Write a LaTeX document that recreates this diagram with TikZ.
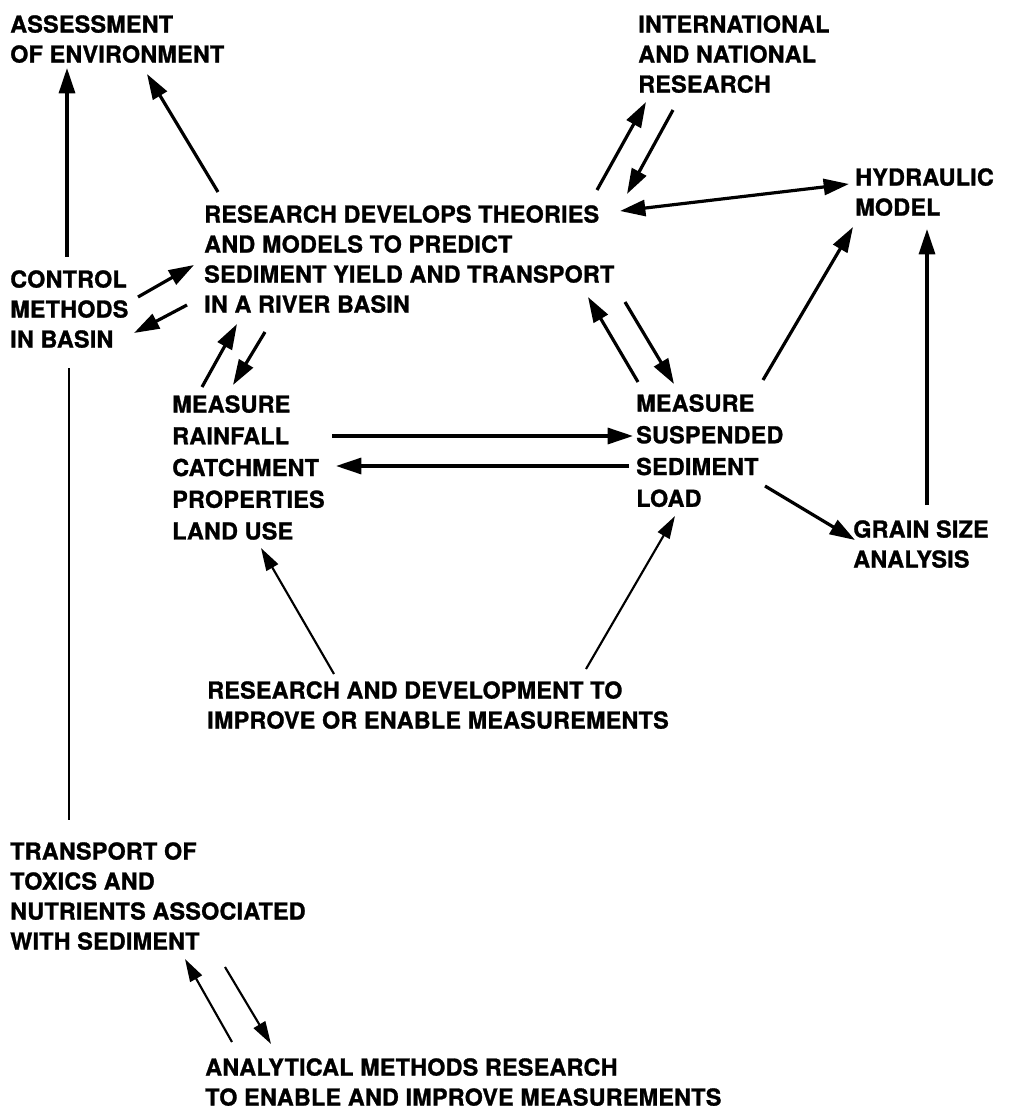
\documentclass[tikz,border=0pt]{standalone}
\usepackage{fontspec}
\setmainfont{TeX Gyre Heros}[BoldFeatures={FakeBold=1.2,LetterSpace=1}]
\usetikzlibrary{arrows.meta}
\begin{document}
\begin{tikzpicture}[x=0.75pt,y=-0.75pt,
  lbl/.style={anchor=north west,inner sep=0pt,align=left,
    font=\fontsize{17.5}{22.5}\selectfont\bfseries},
  wide/.style={font=\fontsize{17.5}{23.8}\selectfont\bfseries},
  tip/.style={Triangle[length=19pt,width=12pt]},
  arr/.style={line width=2.4pt,-{Triangle[length=19pt,width=12pt]}},
  thin/.style={line width=1.6pt,-{Triangle[length=17pt,width=10pt]}},
  plain/.style={line width=1.6pt}]
\useasboundingbox[fill=white] (0,0) rectangle (1010,1112);

\node[lbl] (assess) at (10,15) {ASSESSMENT\\OF ENVIRONMENT};
\node[lbl] (intl) at (638,15) {INTERNATIONAL\\AND NATIONAL\\RESEARCH};
\node[lbl] (hydr) at (855,168) {HYDRAULIC\\MODEL};
\node[lbl] (research) at (204,205) {RESEARCH DEVELOPS THEORIES\\AND MODELS TO PREDICT\\SEDIMENT YIELD AND TRANSPORT\\IN A RIVER BASIN};
\node[lbl] (control) at (10,270) {CONTROL\\METHODS\\IN BASIN};
\node[lbl,wide] (measL) at (172,395) {MEASURE\\RAINFALL\\CATCHMENT\\PROPERTIES\\LAND USE};
\node[lbl,wide] (measR) at (636,394) {MEASURE\\SUSPENDED\\SEDIMENT\\LOAD};
\node[lbl] (grain) at (853,520) {GRAIN SIZE\\ANALYSIS};
\node[lbl] (rnd) at (207,681) {RESEARCH AND DEVELOPMENT TO\\IMPROVE OR ENABLE MEASUREMENTS};
\node[lbl] (transp) at (10,842) {TRANSPORT OF\\TOXICS AND\\NUTRIENTS ASSOCIATED\\WITH SEDIMENT};
\node[lbl] (anal) at (205,1058) {ANALYTICAL METHODS RESEARCH\\TO ENABLE AND IMPROVE MEASUREMENTS};

% connector end points
\coordinate (cA1) at (67,257);  \coordinate (cA2) at (67,68);
\coordinate (rA1) at (218,192); \coordinate (rA2) at (147,74);
\coordinate (cR1) at (138,297); \coordinate (cR2) at (194,265);
\coordinate (rC1) at (187,305); \coordinate (rC2) at (134,333);
\coordinate (mR1) at (202,387); \coordinate (mR2) at (237,324);
\coordinate (rM1) at (265,332); \coordinate (rM2) at (233,385);
\coordinate (rI1) at (597,190); \coordinate (rI2) at (646,102);
\coordinate (iR1) at (673,110); \coordinate (iR2) at (627,194);
\coordinate (rH1) at (620,211); \coordinate (rH2) at (849,184);
\coordinate (sH1) at (763,380); \coordinate (sH2) at (853,227);
\coordinate (gH1) at (927,505); \coordinate (gH2) at (927,229);
\coordinate (rS1) at (625,302); \coordinate (rS2) at (674,384);
\coordinate (sR1) at (638,382); \coordinate (sR2) at (588,297);
\coordinate (lS1) at (332,436); \coordinate (lS2) at (633,436);
\coordinate (sL1) at (629,466); \coordinate (sL2) at (336,466);
\coordinate (sG1) at (765,486); \coordinate (sG2) at (855,540);
\coordinate (dL1) at (334,674); \coordinate (dL2) at (261,548);
\coordinate (dS1) at (586,669); \coordinate (dS2) at (675,516);
\coordinate (cT1) at (69,368);  \coordinate (cT2) at (69,820);
\coordinate (aT1) at (232,1042); \coordinate (aT2) at (185,959);
\coordinate (tA1) at (225,967); \coordinate (tA2) at (271,1044);

\draw[arr] (cA1) -- (cA2);
\draw[arr] (rA1) -- (rA2);
\draw[arr] (cR1) -- (cR2);
\draw[arr] (rC1) -- (rC2);
\draw[arr] (mR1) -- (mR2);
\draw[arr] (rM1) -- (rM2);
\draw[arr] (rI1) -- (rI2);
\draw[arr] (iR1) -- (iR2);
\draw[line width=2.4pt,{Triangle[length=19pt,width=12pt]}-{Triangle[length=19pt,width=12pt]}] (rH1) -- (rH2);
\draw[arr] (sH1) -- (sH2);
\draw[arr] (gH1) -- (gH2);
\draw[arr] (rS1) -- (rS2);
\draw[arr] (sR1) -- (sR2);
\draw[arr] (lS1) -- (lS2);
\draw[arr] (sL1) -- (sL2);
\draw[arr] (sG1) -- (sG2);
\draw[thin] (dL1) -- (dL2);
\draw[thin] (dS1) -- (dS2);
\draw[plain] (cT1) -- (cT2);
\draw[thin] (aT1) -- (aT2);
\draw[thin] (tA1) -- (tA2);
\end{tikzpicture}
\end{document}
